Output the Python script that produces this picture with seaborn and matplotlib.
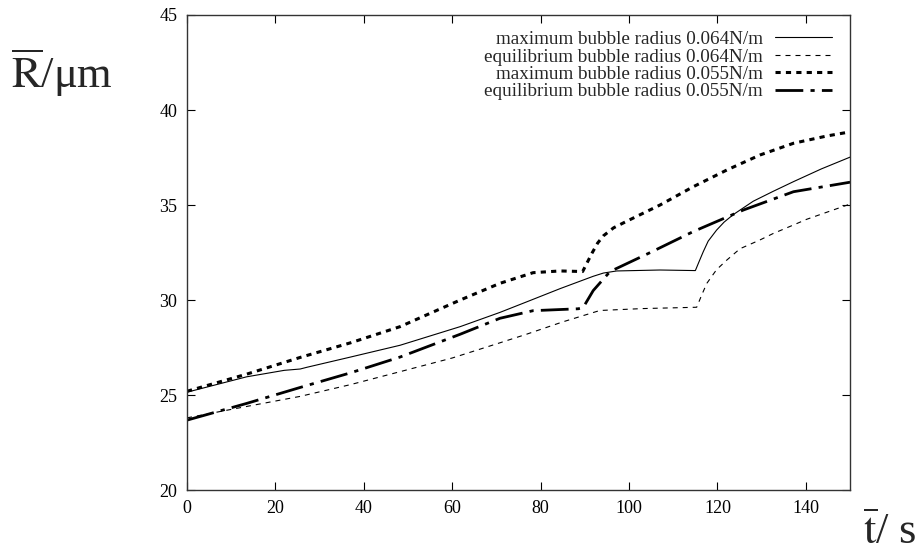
import numpy as np
import pandas as pd
import matplotlib
matplotlib.use("Agg")
import matplotlib.pyplot as plt
import seaborn as sns

# values
t_max064 = [0, 13.5, 22, 25.6, 27.1, 37, 48.2, 61.8, 70.8, 76.8, 84.4, 91.9, 94.2, 97.2,
            107, 115.0, 115.8, 116.8, 117.9, 119.8, 121.5, 123.6, 128.1, 132.6, 137.2,
            143.5, 150]
r_max064 = [25.15, 25.96, 26.3, 26.37, 26.46, 27.0, 27.62, 28.6, 29.35, 29.9, 30.6, 31.25,
            31.42, 31.53, 31.58, 31.55, 32.0, 32.55, 33.1, 33.68, 34.1, 34.5, 35.2, 35.72,
            36.23, 36.9, 37.52]

t_eq064 = [0, 13.5, 25.6, 37, 48.2, 60, 70.8, 76.8, 85, 93.4, 103, 115.3, 116.5, 117.6,
           119.8, 122.1, 125.1, 129.6, 132.6, 137.2, 140.2, 150]
r_eq064 = [23.8, 24.4, 24.93, 25.55, 26.23, 26.95, 27.75, 28.2, 28.85, 29.45, 29.55, 29.62,
           30.3, 30.88, 31.6, 32.1, 32.7, 33.16, 33.5, 33.95, 34.25, 35.05]

t_max055 = [0, 13.5, 25.6, 37, 48.2, 61.8, 70.8, 78.3, 84.4, 89.5, 91.6, 92.9, 94.2, 96.5,
            99.5, 107, 114.5, 122.1, 129.6, 137.2, 144.7, 150]
r_max055 = [25.2, 26.1, 26.98, 27.75, 28.6, 30.0, 30.88, 31.44, 31.53, 31.5, 32.46, 33.0,
            33.38, 33.8, 34.15, 35.0, 35.96, 36.84, 37.63, 38.25, 38.63, 38.85]

t_eq055 = [0, 13.5, 25.6, 37, 48.2, 61.8, 70.8, 78.3, 88.5, 89.6, 91.9, 95.7, 104.8, 114.5,
           125.9, 137.2, 150]
r_eq055 = [23.68, 24.56, 25.4, 26.17, 27.0, 28.2, 29.04, 29.44, 29.54, 29.6, 30.5, 31.5,
           32.5, 33.6, 34.74, 35.7, 36.2]

labels = ["maximum bubble radius 0.064N/m",
          "equilibrium bubble radius 0.064N/m",
          "maximum bubble radius 0.055N/m",
          "equilibrium bubble radius 0.055N/m"]

sns.set_style("ticks")
plt.rcParams['font.family'] = ['Liberation Serif', 'DejaVu Serif']
plt.rcParams['mathtext.fontset'] = 'stix'

fig = plt.figure(figsize=(9.19, 5.55), dpi=100)
ax = fig.add_axes([0.2035, 0.117, 0.7215, 0.856])

series = [
    (t_max064, r_max064, 0.8, '-'),
    (t_eq064, r_eq064, 0.8, (0, (4.5, 4.5))),
    (t_max055, r_max055, 2.2, (0, (1.7, 1.7))),
    (t_eq055, r_eq055, 2.0, (0, (10, 2.6, 1.5, 2.6))),
]
for (t, r, lw, ls), lab in zip(series, labels):
    df = pd.DataFrame({'t': t, 'R': r})
    sns.lineplot(data=df, x='t', y='R', color='black', lw=lw, linestyle=ls,
                 label=lab, ax=ax, legend=False)

ax.set_xlim(0, 150)
ax.set_ylim(20, 45)
ax.set_xticks(range(0, 141, 20))
ax.set_yticks(range(20, 46, 5))
ax.tick_params(direction='in', length=6, width=0.8, top=True, right=True,
               labelsize=13, pad=7, colors='black')
for sp in ax.spines.values():
    sp.set_linewidth(1.0)
    sp.set_color('#333333')
ax.set_xlabel('')
ax.set_ylabel('')

leg = ax.legend(loc='upper right', frameon=False, markerfirst=False, fontsize=13.8,
                handlelength=3.0, handletextpad=0.6, labelspacing=0.0,
                borderaxespad=0.3, bbox_to_anchor=(0.993, 0.995))

fig.text(0.012, 0.87, r'$\overline{\mathrm{R}}$/μm', fontsize=32, ha='left', va='center')
fig.text(0.997, 0.04, r'$\overline{\mathrm{t}}$/ s', fontsize=32, ha='right', va='center')

fig.savefig('out.png', dpi=100)
